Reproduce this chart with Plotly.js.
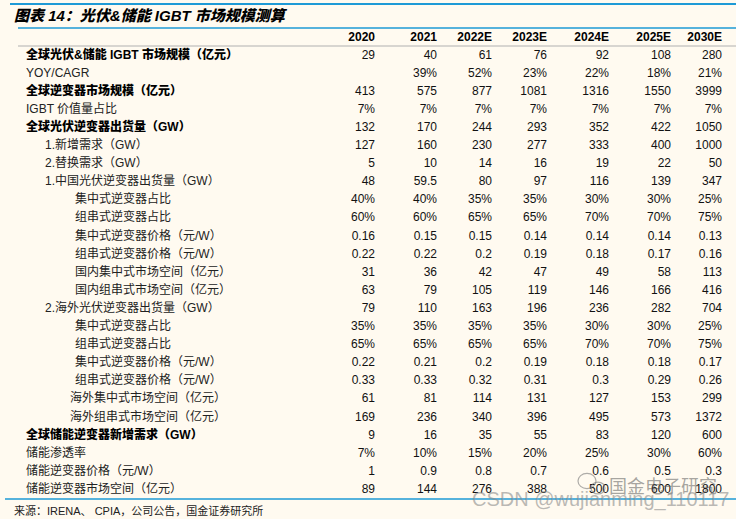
<!DOCTYPE html>
<html><head><meta charset="utf-8">
<script src="https://cdn.plot.ly/plotly-3.0.1.min.js"></script>
<style>html,body{margin:0;padding:0;background:#FFFAF0}</style>
</head><body><div id="chart" style="width:736px;height:519px"></div>
<script>
// ---------- data ----------
const chartTitle = "图表 14：光伏&储能 IGBT 市场规模测算";
const years = ["2020","2021","2022E","2023E","2024E","2025E","2030E"];
const rowLabels = [
  "全球光伏&储能 IGBT 市场规模（亿元）",
  "YOY/CAGR",
  "全球逆变器市场规模（亿元）",
  "IGBT 价值量占比",
  "全球光伏逆变器出货量（GW）",
  "1.新增需求（GW）",
  "2.替换需求（GW）",
  "1.中国光伏逆变器出货量（GW）",
  "集中式逆变器占比",
  "组串式逆变器占比",
  "集中式逆变器价格（元/W）",
  "组串式逆变器价格（元/W）",
  "国内集中式市场空间（亿元）",
  "国内组串式市场空间（亿元）",
  "2.海外光伏逆变器出货量（GW）",
  "集中式逆变器占比",
  "组串式逆变器占比",
  "集中式逆变器价格（元/W）",
  "组串式逆变器价格（元/W）",
  "海外集中式市场空间（亿元）",
  "海外组串式市场空间（亿元）",
  "全球储能逆变器新增需求（GW）",
  "储能渗透率",
  "储能逆变器价格（元/W）",
  "储能逆变器市场空间（亿元）"
];
const v2020  = ["29","","413","7%","132","127","5","48","40%","60%","0.16","0.22","31","63","79","35%","65%","0.22","0.33","61","169","9","7%","1","89"];
const v2021  = ["40","39%","575","7%","170","160","10","59.5","40%","60%","0.15","0.22","36","79","110","35%","65%","0.21","0.33","81","236","16","10%","0.9","144"];
const v2022E = ["61","52%","877","7%","244","230","14","80","35%","65%","0.15","0.2","42","105","163","35%","65%","0.2","0.32","114","340","35","15%","0.8","276"];
const v2023E = ["76","23%","1081","7%","293","277","16","97","35%","65%","0.14","0.19","47","119","196","35%","65%","0.19","0.31","131","396","55","20%","0.7","388"];
const v2024E = ["92","22%","1316","7%","352","333","19","116","30%","70%","0.14","0.18","49","146","236","30%","70%","0.18","0.3","127","495","83","25%","0.6","500"];
const v2025E = ["108","18%","1550","7%","422","400","22","139","30%","70%","0.14","0.17","58","166","282","30%","70%","0.18","0.29","153","573","120","30%","0.5","600"];
const v2030E = ["280","21%","3999","7%","1050","1000","50","347","25%","75%","0.13","0.16","113","416","704","25%","75%","0.17","0.26","299","1372","600","60%","0.3","1800"];
const sourceText = "来源：IRENA、 CPIA，公司公告，国金证券研究所";
const watermark1 = "CSDN @wujianming_110117";
const watermark2 = "国金电子研究";

// ---------- layout / style config ----------
const columns = [v2020, v2021, v2022E, v2023E, v2024E, v2025E, v2030E];
const colRight = [375, 437, 492, 547, 609, 671, 722];
const rowBold  = [1,0,1,0,1,0,0,0,0,0,0,0,0,0,0,0,0,0,0,0,0,1,0,0,0];
const rowIndent= [26,26,26,26,26,45,45,45,75,75,75,75,75,75,45,75,75,75,75,70,70,26,26,26,26];
const ROW0 = 55.5, ROWH = 18.1, W = 736, H = 519;
const py = p => (p - ROW0) / ROWH;     // pixel row -> row-index coordinate
const rowIdx = rowLabels.map((_, i) => i);
const BLUE = "#1E9AD6";
const LATIN = "Liberation Sans, Arial, Noto Sans CJK SC";
const CJK = "Liberation Sans, Noto Sans CJK SC";

const traces = [];
// row labels
[1, 0].forEach(b => {
  const idx = rowIdx.filter(i => rowBold[i] === b);
  traces.push({
    type: "scatter", mode: "text", hoverinfo: "skip", showlegend: false,
    x: idx.map(i => rowIndent[i]), y: idx, text: idx.map(i => rowLabels[i]),
    textposition: "middle right",
    textfont: { family: CJK, size: 12, color: b ? "#000" : "#222", weight: b ? 900 : 400 }
  });
});
// header
traces.push({
  type: "scatter", mode: "text", hoverinfo: "skip", showlegend: false,
  x: colRight, y: years.map(() => py(37.5)), text: years,
  textposition: "middle left",
  textfont: { family: LATIN, size: 12, color: "#000", weight: 700 }
});
// values
columns.forEach((col, c) => {
  traces.push({
    type: "scatter", mode: "text", hoverinfo: "skip", showlegend: false,
    x: col.map(() => colRight[c]), y: rowIdx, text: col,
    textposition: "middle left",
    textfont: { family: LATIN, size: 12, color: "#111" }
  });
});

const hline = (y, x0, color, w) => ({
  type: "line", xref: "x", yref: "y", x0: x0, x1: W, y0: py(y), y1: py(y),
  line: { color: color, width: w }
});
const bubble = (cx, cy, r) => ({
  type: "circle", xref: "x", yref: "y", x0: cx - r, x1: cx + r, y0: py(cy - r * 0.85), y1: py(cy + r * 0.85),
  line: { color: "rgba(120,120,120,0.6)", width: 1.2 }
});

const layout = {
  width: W, height: H,
  margin: { l: 0, r: 0, t: 0, b: 0 },
  paper_bgcolor: "#FFFAF0", plot_bgcolor: "#FFFAF0",
  xaxis: { range: [0, W], visible: false, fixedrange: true },
  yaxis: { range: [py(H), py(0)], visible: false, fixedrange: true },
  title: {
    text: chartTitle, x: 14 / W, xanchor: "left", xref: "paper",
    y: 1 - 15.5 / H, yanchor: "middle", yref: "container",
    font: { family: CJK, size: 15, color: "#000", weight: 900, style: "italic" }
  },
  shapes: [
    hline(4, 10, BLUE, 2),
    hline(28, 18, BLUE, 1.5),
    hline(46, 18, "#B0B0B0", 1),
    hline(499, 5, BLUE, 1.5),
    bubble(587, 481, 9),
    bubble(598, 488, 7)
  ],
  annotations: [
    { text: sourceText, xref: "x", yref: "y", x: 12, y: py(510.5), xanchor: "left", yanchor: "middle",
      showarrow: false, font: { family: CJK, size: 11, color: "#222" } },
    { text: watermark2, xref: "x", yref: "y", x: 607, y: py(485), xanchor: "left", yanchor: "middle",
      showarrow: false, font: { family: "Noto Sans CJK SC", size: 18, color: "rgba(90,90,90,0.55)" } },
    { text: watermark1, xref: "x", yref: "y", x: 470, y: py(499), xanchor: "left", yanchor: "middle",
      showarrow: false, font: { family: "Liberation Sans, Arial", size: 20, color: "rgba(140,140,140,0.6)" } }
  ]
};

Plotly.newPlot("chart", traces, layout, { displayModeBar: false, staticPlot: true });
</script>
</body></html>
